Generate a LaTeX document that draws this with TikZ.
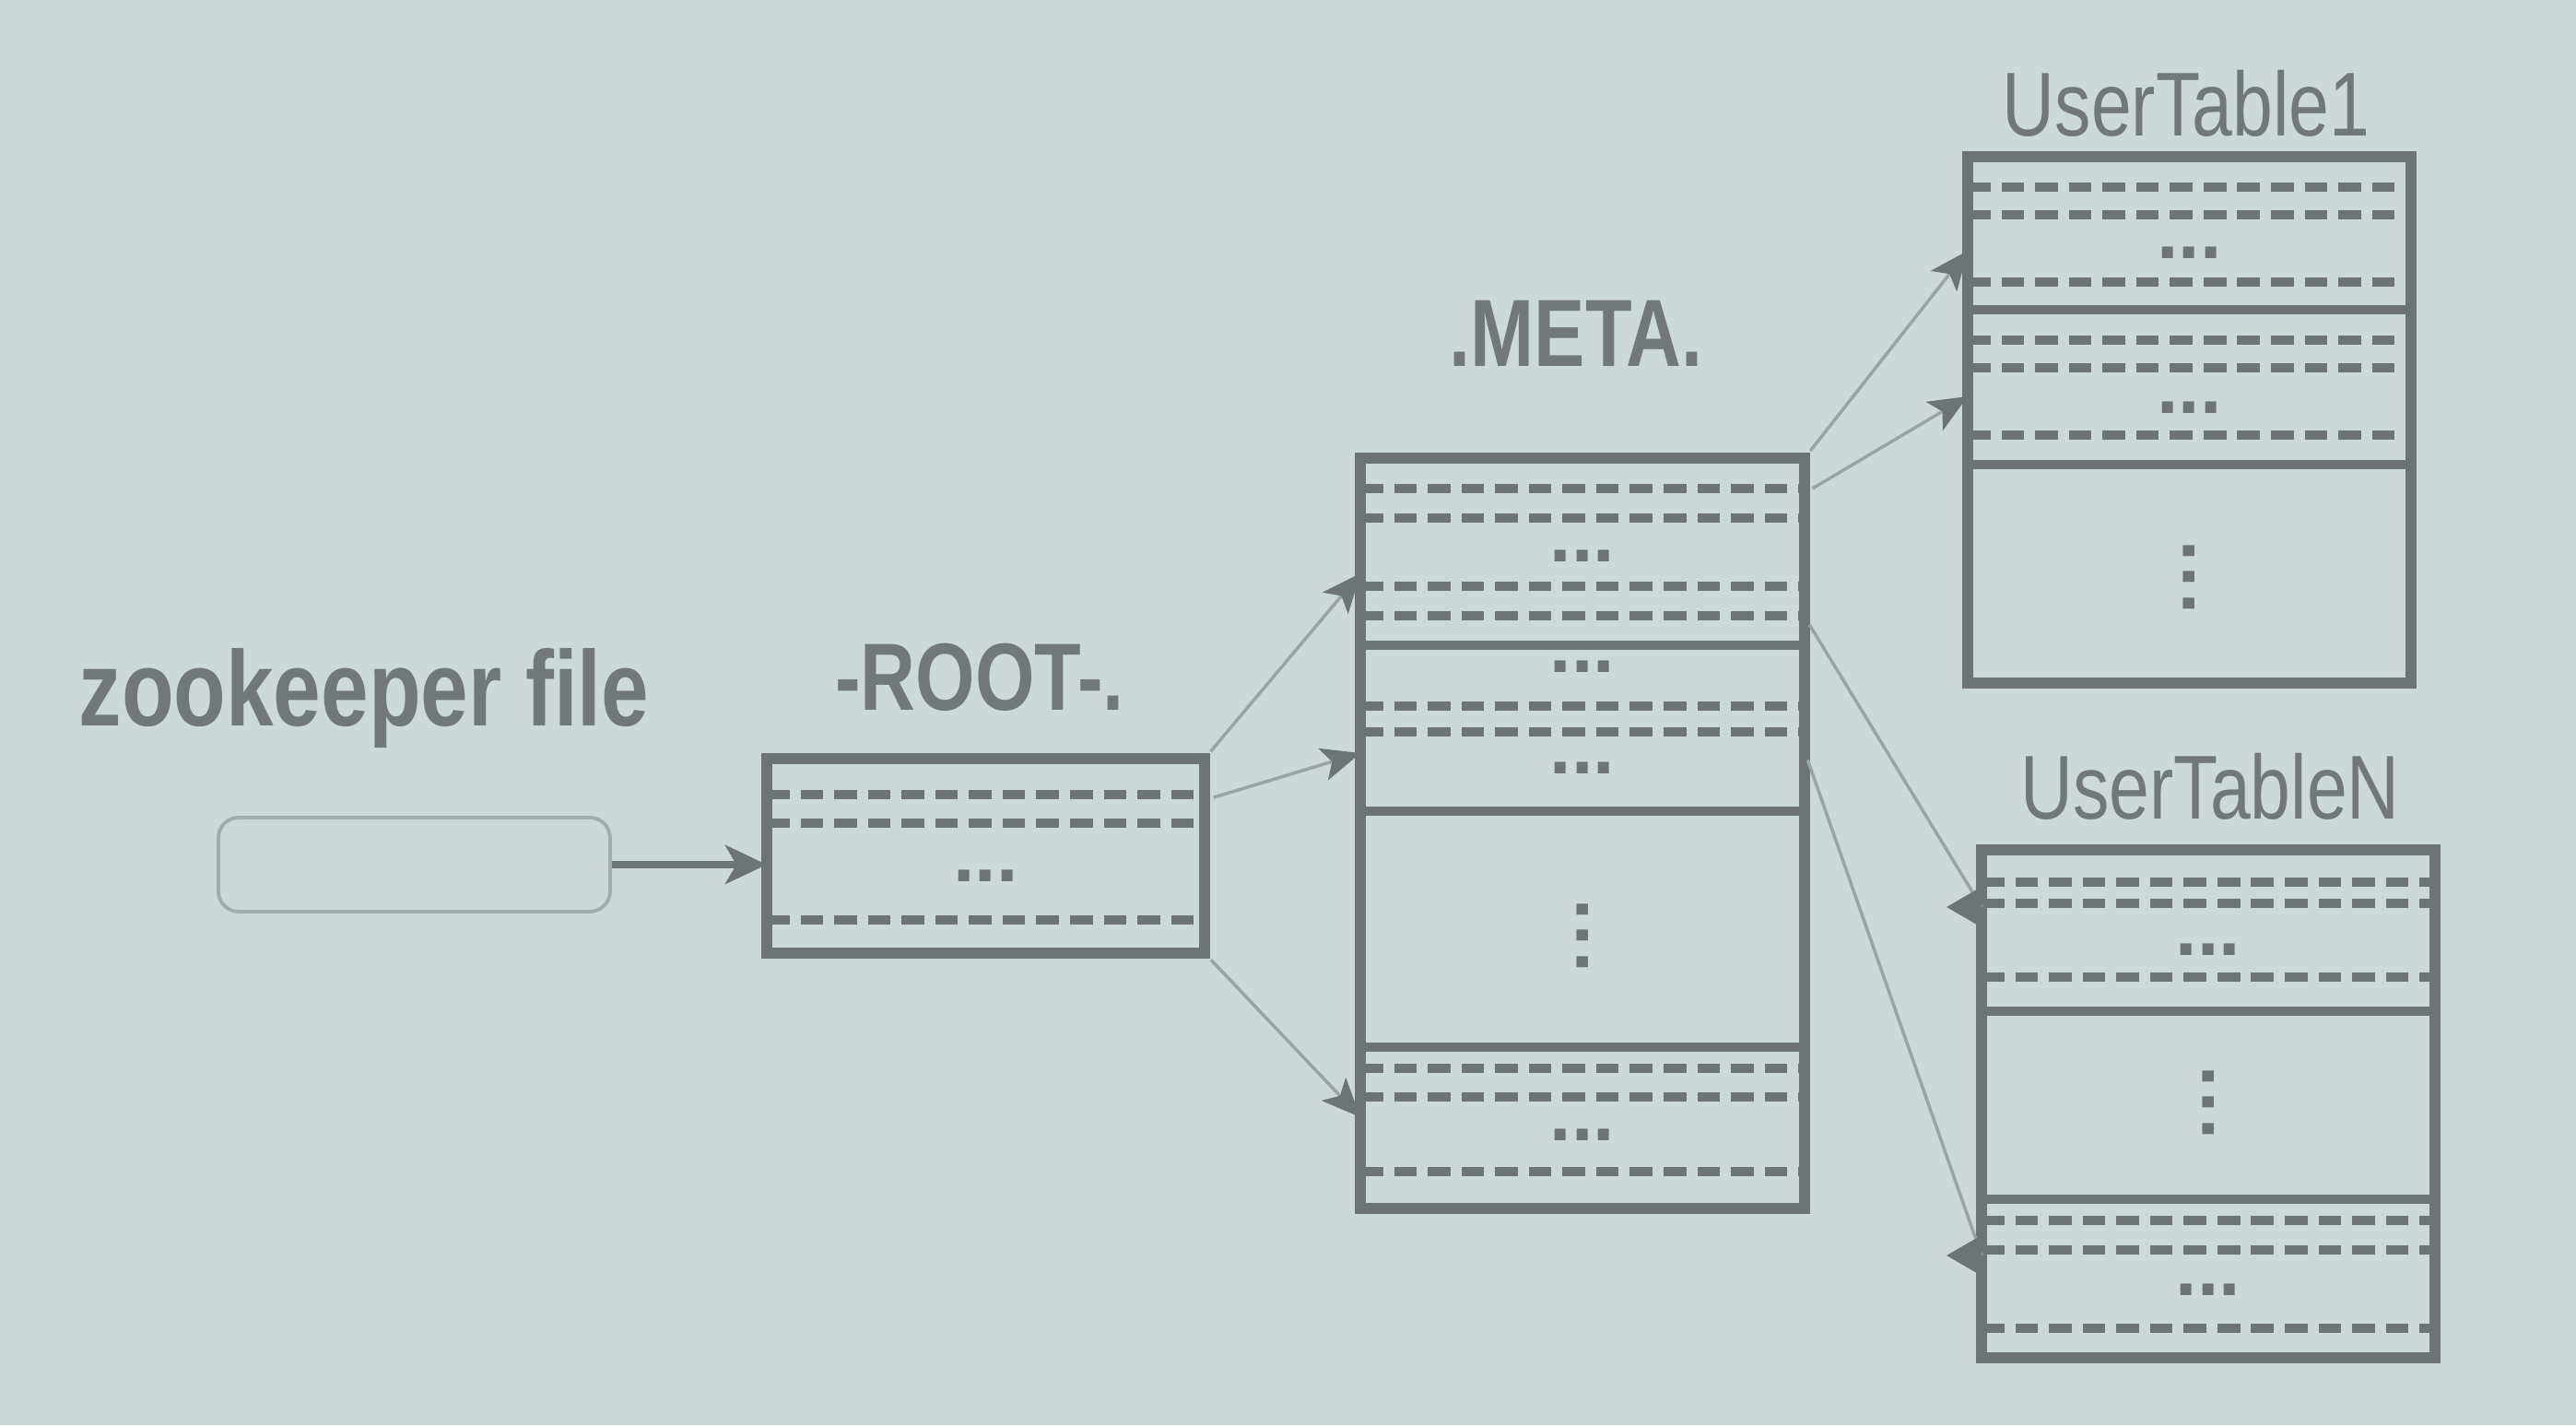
\documentclass[tikz,border=0pt]{standalone}
\usepackage{fontspec}
\newfontfamily\labelfont[FakeStretch=0.8]{Liberation Sans}
\newfontfamily\dotfont{Liberation Sans}
\usetikzlibrary{calc, arrows.meta}
\definecolor{slide}{HTML}{CDD9D6}
\definecolor{ink}{HTML}{6E7376}
\definecolor{wire}{HTML}{9AA4A6}
\definecolor{labelgray}{HTML}{72777A}
\definecolor{zkline}{HTML}{A3ACAD}
\tikzset{
	tablebox/.style={draw=ink, line width=3.3pt, anchor=north west, inner sep=0pt, outer sep=0pt},
	dashrow/.style={draw=ink, line width=2.7pt, dash pattern=on 7pt off 3.4pt},
	secline/.style={draw=ink, line width=3pt},
	rowdots/.style={text=ink, font=\dotfont\bfseries\fontsize{24}{24}\selectfont, inner sep=0pt},
	coldots/.style={rowdots, rotate=90},
	title/.style={text=labelgray, anchor=base, inner sep=0pt, font=\labelfont\bfseries\fontsize{29.5}{34}\selectfont},
	ptr/.style={draw=wire, line width=1pt, shorten <=0.1cm,
		-{Stealth[length=0.42cm, width=0.36cm, inset=0.1cm, color=ink]}},
	backtip/.pic={\fill[ink] (-0.38,0) -- (0,0.22) -- (0,-0.22) -- cycle;}
}
\newcommand{\dashrow}[2]{\draw[dashrow] (#1.west |- 0,#2) -- (#1.east |- 0,#2);}
\newcommand{\hsep}[2]{\draw[secline] (#1.west |- 0,#2) -- (#1.east |- 0,#2);}
\newcommand{\rowdots}[3]{\node[rowdots] (#3) at (#1.center |- 0,#2) {...};}
\newcommand{\coldots}[3]{\node[coldots] (#3) at (#1.center |- 0,#2) {.\kern1.5pt.\kern1.5pt.};}

\begin{document}
\begin{tikzpicture}
	\fill[slide] (0,0) rectangle (27.95,-15.46);
	\useasboundingbox (0,0) rectangle (27.95,-15.46);

	% titles
	\node[title, font=\labelfont\bfseries\fontsize{33}{38}\selectfont] (zklabel) at (3.95,-7.87) {zookeeper file};
	\node[title] (rootlabel) at (10.63,-7.70) {-ROOT-.};
	\node[title] (metalabel) at (17.10,-3.97) {.META.};
	\node[title, font=\labelfont\fontsize{28}{32}\selectfont] (ut1label) at (23.72,-1.47) {UserTable1};
	\node[title, font=\labelfont\fontsize{28}{32}\selectfont] (utnlabel) at (23.98,-8.88) {UserTableN};

	% tables
	\node[draw=zkline, line width=1.1pt, rounded corners=0.22cm, anchor=north west,
		minimum width=4.25cm, minimum height=1.02cm, inner sep=0pt] (zk) at (2.35,-8.85) {};
	\node[tablebox, minimum width=4.75cm, minimum height=2.11cm] (root) at (8.32,-8.23) {};
	\node[tablebox, minimum width=4.82cm, minimum height=8.14cm] (meta) at (14.76,-4.97) {};
	\node[tablebox, minimum width=4.81cm, minimum height=5.71cm] (ut1) at (21.35,-1.70) {};
	\node[tablebox, minimum width=4.92cm, minimum height=5.51cm] (utn) at (21.50,-9.22) {};

	% -ROOT-.
	\dashrow{root}{-8.62} \dashrow{root}{-8.93}
	\rowdots{root}{-9.50}{root-d1}
	\dashrow{root}{-9.98}

	% .META.
	\dashrow{meta}{-5.30} \dashrow{meta}{-5.62}
	\rowdots{meta}{-6.03}{meta-d1}
	\dashrow{meta}{-6.36} \dashrow{meta}{-6.68}
	\hsep{meta}{-7.00}
	\rowdots{meta}{-7.23}{meta-d2}
	\dashrow{meta}{-7.66} \dashrow{meta}{-7.94}
	\rowdots{meta}{-8.33}{meta-d3}
	\hsep{meta}{-8.80}
	\coldots{meta}{-10.15}{meta-d4}
	\hsep{meta}{-11.36}
	\dashrow{meta}{-11.59} \dashrow{meta}{-11.90}
	\rowdots{meta}{-12.31}{meta-d5}
	\dashrow{meta}{-12.71}

	% UserTable1
	\dashrow{ut1}{-2.03} \dashrow{ut1}{-2.33}
	\rowdots{ut1}{-2.74}{ut1-d1}
	\dashrow{ut1}{-3.06}
	\hsep{ut1}{-3.36}
	\dashrow{ut1}{-3.69} \dashrow{ut1}{-3.99}
	\rowdots{ut1}{-4.42}{ut1-d2}
	\dashrow{ut1}{-4.72}
	\hsep{ut1}{-5.04}
	\coldots{ut1}{-6.26}{ut1-d3}

	% UserTableN
	\dashrow{utn}{-9.57} \dashrow{utn}{-9.80}
	\rowdots{utn}{-10.30}{utn-d1}
	\dashrow{utn}{-10.60}
	\hsep{utn}{-10.97}
	\coldots{utn}{-11.96}{utn-d2}
	\hsep{utn}{-13.01}
	\dashrow{utn}{-13.24} \dashrow{utn}{-13.56}
	\rowdots{utn}{-13.99}{utn-d3}
	\dashrow{utn}{-14.41}

	% pointer ends
	\coordinate (root-out2) at (root.east |- 0,-8.68);
	\coordinate (meta-in1) at (meta.west |- 0,-6.22);
	\coordinate (meta-in2) at (meta.west |- 0,-8.17);
	\coordinate (meta-in3) at (meta.west |- 0,-12.12);
	\coordinate (meta-out2) at (meta.east |- 0,-5.35);
	\coordinate (meta-out3) at (meta.east |- 0,-6.69);
	\coordinate (meta-out4) at (meta.east |- 0,-8.15);
	\coordinate (ut1-in1) at (ut1.west |- 0,-2.72);
	\coordinate (ut1-in2) at (ut1.west |- 0,-4.30);
	\coordinate (utn-in1) at (utn.west |- 0,-9.84);
	\coordinate (utn-in2) at (utn.west |- 0,-13.62);

	% pointers
	\draw[line width=2.3pt, draw=ink, -{Stealth[length=0.45cm, width=0.42cm, inset=0.12cm]}]
		(zk.east) -- (zk.east -| root.west);
	\draw[ptr] (root.north east) -- (meta-in1);
	\draw[ptr] (root-out2) -- (meta-in2);
	\draw[ptr] (root.south east) -- (meta-in3);
	\draw[ptr] (meta.north east) -- (ut1-in1);
	\draw[ptr] (meta-out2) -- (ut1-in2);
	\draw[ptr, -] (meta-out3) -- (utn-in1);
	\draw[ptr, -] (meta-out4) -- (utn-in2);
	\pic at (utn-in1) {backtip};
	\pic at (utn-in2) {backtip};
\end{tikzpicture}
\end{document}
